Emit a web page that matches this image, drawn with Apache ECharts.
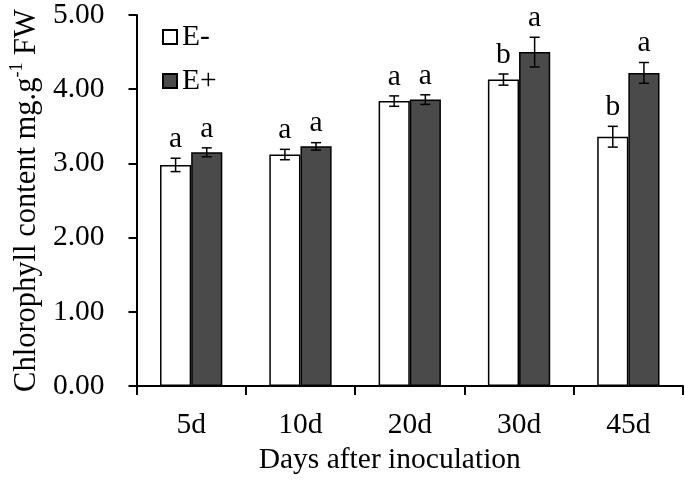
<!DOCTYPE html>
<html>
<head>
<meta charset="utf-8">
<script src="https://cdn.jsdelivr.net/npm/echarts@6/dist/echarts.min.js"></script>
<style>html,body{margin:0;padding:0;background:#fff}#c{width:685px;height:480px}</style>
</head>
<body>
<div id="c"></div>
<script>
const categories = ['5d', '10d', '20d', '30d', '45d'];
const eMinus = [2.98, 3.12, 3.84, 4.13, 3.36];
const ePlus = [3.15, 3.23, 3.86, 4.50, 4.22];
const eMinusErr = [0.09, 0.07, 0.07, 0.075, 0.14];
const ePlusErr = [0.06, 0.05, 0.065, 0.20, 0.14];
const eMinusLetters = ['a', 'a', 'a', 'b', 'b'];
const ePlusLetters = ['a', 'a', 'a', 'a', 'a'];
const yTicks = [0, 1, 2, 3, 4, 5];

const FONT = 'Liberation Serif';
const FS = 29.5;
const GAP = 0.43;

function errSeries(vals, errs, letters, side) {
  return {
    type: 'custom',
    z: 10,
    silent: true,
    data: vals.map((v, i) => [i, v, errs[i]]),
    renderItem: function (params, api) {
      const i = api.value(0), v = api.value(1), e = api.value(2);
      const letter = letters[i];
      const c = api.coord([i, v]);
      const top = api.coord([i, v + e]);
      const bot = api.coord([i, v - e]);
      const bandW = api.size([1, 0])[0];
      const barW = bandW * (1 - GAP) / 2;
      const cx = c[0] + side * barW / 2;
      const cap = 5;
      const st = { stroke: '#000', lineWidth: 1.5 };
      return {
        type: 'group',
        children: [
          { type: 'line', shape: { x1: cx, y1: top[1], x2: cx, y2: bot[1] }, style: st },
          { type: 'line', shape: { x1: cx - cap, y1: top[1], x2: cx + cap, y2: top[1] }, style: st },
          { type: 'line', shape: { x1: cx - cap, y1: bot[1], x2: cx + cap, y2: bot[1] }, style: st },
          { type: 'text', x: cx, y: top[1] - 4, style: { text: letter, textAlign: 'center', textVerticalAlign: 'bottom', fontFamily: FONT, fontSize: FS, fill: '#000' } }
        ]
      };
    }
  };
}

const chart = echarts.init(document.getElementById('c'));
chart.setOption({
  animation: false,
  backgroundColor: '#fff',
  grid: { left: 123, right: 2, top: 12, bottom: 85, containLabel: false },
  legend: {
    orient: 'vertical',
    left: 157,
    top: 17,
    itemWidth: 14,
    itemHeight: 14,
    itemGap: 14,
    icon: 'rect',
    textStyle: { fontFamily: FONT, fontSize: FS, color: '#000' },
    data: ['E-', 'E+']
  },
  xAxis: {
    type: 'category',
    data: categories,
    name: 'Days after inoculation',
    nameLocation: 'middle',
    nameGap: 56,
    nameTextStyle: { fontFamily: FONT, fontSize: FS, color: '#000', padding: [0, 40, 0, 0] },
    axisLine: { lineStyle: { color: '#000', width: 2 } },
    axisTick: { show: true, length: 9, lineStyle: { color: '#000', width: 2 } },
    axisLabel: { fontFamily: FONT, fontSize: FS, color: '#000', margin: 24 }
  },
  yAxis: {
    type: 'value',
    min: 0,
    max: 5,
    interval: 1,
    name: '{n|Chlorophyll content mg.g}{s|-1}{n| FW}',
    nameLocation: 'middle',
    nameGap: 92,
    nameTextStyle: {
      rich: {
        n: { fontFamily: FONT, fontSize: 30.5, color: '#000', verticalAlign: 'bottom', lineHeight: 34 },
        s: { fontFamily: FONT, fontSize: 18, color: '#000', verticalAlign: 'top', lineHeight: 34 }
      }
    },
    splitLine: { show: false },
    axisLine: { show: true, lineStyle: { color: '#000', width: 2 } },
    axisTick: { show: true, length: 8, lineStyle: { color: '#000', width: 2 } },
    axisLabel: {
      fontFamily: FONT, fontSize: FS, color: '#000', margin: 32,
      formatter: v => yTicks.includes(v) ? v.toFixed(2) : ''
    }
  },
  series: [
    {
      name: 'E-', type: 'bar', data: eMinus, barGap: '0%', barCategoryGap: (GAP * 100) + '%',
      itemStyle: { color: '#ffffff', borderColor: '#000', borderWidth: 1.5 }
    },
    {
      name: 'E+', type: 'bar', data: ePlus, barGap: '0%', barCategoryGap: (GAP * 100) + '%',
      itemStyle: { color: '#4a4a4a', borderColor: '#000', borderWidth: 1.5 }
    },
    errSeries(eMinus, eMinusErr, eMinusLetters, -1),
    errSeries(ePlus, ePlusErr, ePlusLetters, 1)
  ]
});
</script>
</body>
</html>
